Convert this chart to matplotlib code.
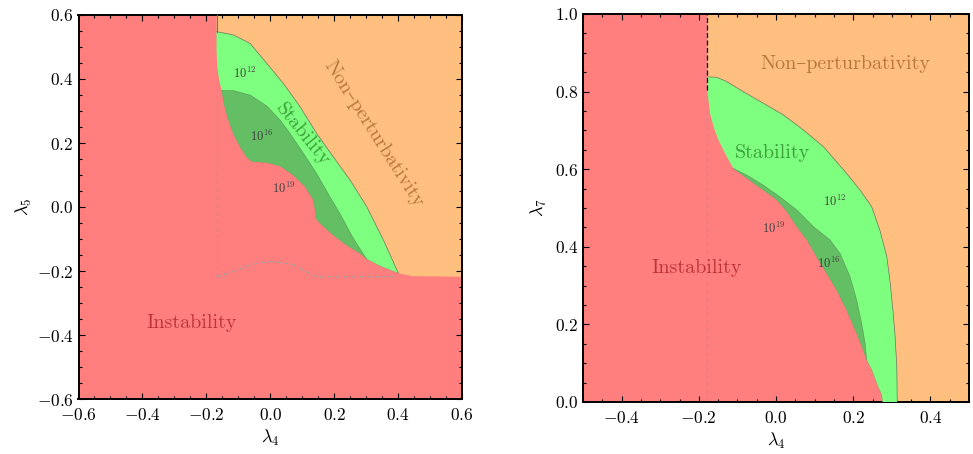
import matplotlib
matplotlib.use('Agg')
import matplotlib.pyplot as plt
from matplotlib.ticker import MultipleLocator
import numpy as np

plt.rcParams['font.family'] = 'serif'
plt.rcParams['font.serif'] = ['cmr10']
plt.rcParams['mathtext.fontset'] = 'cm'
plt.rcParams['axes.formatter.use_mathtext'] = True

# colours
RED = '#ff7f7f'
ORANGE = '#ffbf7f'
GREEN = '#7fff7f'
DGREEN = '#64be64'

# ---------------- left panel (lambda4, lambda5) ----------------
# orange / green border
up5_x = [-0.168, -0.116, -0.063, -0.011, 0.041, 0.093, 0.145, 0.197, 0.250, 0.302, 0.354, 0.401]
up5_y = [0.548, 0.538, 0.511, 0.449, 0.386, 0.314, 0.230, 0.157, 0.084, 0.001, -0.103, -0.207]
# left edge of green
le5_x = [-0.168, -0.168, -0.166, -0.160, -0.152]
le5_y = [0.548, 0.491, 0.439, 0.397, 0.364]
# instability border
rb5_x = [-0.152, -0.145, -0.131, -0.116, -0.095, -0.074, -0.058, -0.011, 0.031, 0.072, 0.109,
         0.135, 0.140, 0.142, 0.161, 0.197, 0.239, 0.281, 0.302, 0.343, 0.401]
rb5_y = [0.364, 0.324, 0.272, 0.230, 0.189, 0.157, 0.142, 0.139, 0.128, 0.100, 0.064,
         0.022, -0.009, -0.035, -0.056, -0.088, -0.119, -0.145, -0.163, -0.184, -0.207]
# 10^16 border
dg5_x = [-0.152, -0.116, -0.063, -0.011, 0.031, 0.062, 0.104, 0.145, 0.187, 0.218, 0.260, 0.302]
dg5_y = [0.364, 0.364, 0.350, 0.316, 0.272, 0.230, 0.168, 0.105, 0.032, -0.020, -0.098, -0.163]
# bottom of non-perturbative region
ob5_x = [0.401, 0.443, 0.6]
ob5_y = [-0.207, -0.216, -0.218]
# dashed curve
ds5_x = [-0.168, -0.142, -0.116, -0.090, -0.063, -0.030, 0.005, 0.040, 0.072, 0.110, 0.145, 0.396]
ds5_y = [-0.218, -0.210, -0.202, -0.192, -0.181, -0.174, -0.171, -0.174, -0.181, -0.200, -0.218, -0.218]

# ---------------- right panel (lambda4, lambda7) ----------------
up7_x = [-0.178, -0.154, -0.128, -0.085, -0.033, 0.019, 0.071, 0.123, 0.183, 0.218, 0.248, 0.269,
         0.287, 0.295, 0.302, 0.308, 0.313, 0.314]
up7_y = [0.838, 0.837, 0.826, 0.800, 0.770, 0.740, 0.701, 0.658, 0.589, 0.546, 0.503, 0.443,
         0.375, 0.314, 0.246, 0.177, 0.091, 0.0]
le7_x = [-0.178, -0.178, -0.175, -0.171, -0.162, -0.149, -0.132, -0.1105]
le7_y = [0.838, 0.804, 0.778, 0.744, 0.710, 0.675, 0.641, 0.602]
rb7_x = [-0.1105, -0.076, -0.033, 0.002, 0.028, 0.054, 0.080, 0.105, 0.131, 0.157, 0.183, 0.209,
         0.226, 0.235, 0.248, 0.261, 0.274, 0.276]
rb7_y = [0.602, 0.577, 0.546, 0.521, 0.491, 0.452, 0.418, 0.375, 0.332, 0.289, 0.237, 0.177,
         0.134, 0.108, 0.083, 0.048, 0.018, 0.0]
dg7_x = [-0.1105, -0.076, -0.033, 0.010, 0.054, 0.097, 0.140, 0.166, 0.192, 0.209, 0.222, 0.231, 0.235]
dg7_y = [0.602, 0.585, 0.559, 0.529, 0.495, 0.452, 0.418, 0.383, 0.323, 0.263, 0.203, 0.151, 0.108]
x_cut7 = -0.178


def style_axes(ax, xlim, ylim):
    ax.set_xlim(*xlim)
    ax.set_ylim(*ylim)
    ax.set_facecolor(RED)
    ax.xaxis.set_major_locator(MultipleLocator(0.2))
    ax.yaxis.set_major_locator(MultipleLocator(0.2))
    ax.xaxis.set_minor_locator(MultipleLocator(0.05))
    ax.yaxis.set_minor_locator(MultipleLocator(0.05))
    ax.tick_params(which='both', direction='in', top=True, right=True, labelsize=12.5, width=0.8)
    ax.tick_params(which='major', length=4)
    ax.tick_params(which='minor', length=2)
    ax.tick_params(axis='x', which='major', pad=6)
    for s in ax.spines.values():
        s.set_linewidth(1.4)


def region_layers(ax, up_x, up_y, le_x, le_y, rb_x, rb_y, dg_x, dg_y, top_poly):
    up_x, up_y = np.array(up_x), np.array(up_y)
    rb_x, rb_y = np.array(rb_x), np.array(rb_y)
    ax.fill(top_poly[0], top_poly[1], color=ORANGE, lw=0, zorder=1)
    gx = np.concatenate([up_x, rb_x[::-1], np.array(le_x)[::-1]])
    gy = np.concatenate([up_y, rb_y[::-1], np.array(le_y)[::-1]])
    ax.fill(gx, gy, color=GREEN, lw=0, zorder=3)
    m = rb_x <= dg_x[-1] + 1e-9
    dx = np.concatenate([dg_x, rb_x[m][::-1]])
    dy = np.concatenate([dg_y, rb_y[m][::-1]])
    ax.fill(dx, dy, color=DGREEN, lw=0, zorder=4)
    ax.plot(up_x, up_y, color='#505050', lw=0.5, alpha=0.7, zorder=5)
    ax.plot(dg_x, dg_y, color='#406040', lw=0.4, alpha=0.5, zorder=5)
    ax.plot(rb_x, rb_y, color='#806060', lw=0.4, alpha=0.4, zorder=5)


fig = plt.figure(figsize=(9.73, 4.54), dpi=100)
W, H = 973.0, 454.0
ax1 = fig.add_axes([78.5 / W, (H - 399) / H, (462 - 78.5) / W, (399 - 15) / H])
ax2 = fig.add_axes([583 / W, (H - 402) / H, (969 - 583) / W, (402 - 14) / H])

# left panel
style_axes(ax1, (-0.6, 0.6), (-0.6, 0.6))
top5 = (np.concatenate([[up5_x[0], 0.6], ob5_x[::-1], up5_x[::-1]]),
        np.concatenate([[0.6, 0.6], ob5_y[::-1], up5_y[::-1]]))
ax1.plot([up5_x[0], up5_x[0]], [up5_y[0], -0.218], color='#a0a0a0', lw=0.8, ls=(0, (4, 3)), zorder=2)
ax1.plot(ds5_x, ds5_y, color='#a0a0a0', lw=0.8, ls=(0, (4, 3)), zorder=2)
region_layers(ax1, up5_x, up5_y, le5_x, le5_y, rb5_x, rb5_y, dg5_x, dg5_y, top5)
ax1.plot([up5_x[0], up5_x[0]], [up5_y[0], 0.6], color='#3a9a3a', lw=0.8, zorder=5)

ax1.text(0.322, 0.230, 'Non–perturbativity', rotation=-57.5, ha='center', va='center',
         fontsize=14.5, color='#b9783a', family=['cmr10', 'DejaVu Serif'], zorder=6)
ax1.text(0.100, 0.225, 'Stability', rotation=-51, ha='center', va='center',
         fontsize=14.5, color='#3aa03a', zorder=6)
ax1.text(-0.245, -0.3625, 'Instability', ha='center', va='center', fontsize=14.5,
         color='#c03438', zorder=6)
ax1.text(-0.079, 0.418, r'$10^{12}$', ha='center', va='center', fontsize=9, color='#404040', zorder=6)
ax1.text(-0.027, 0.220, r'$10^{16}$', ha='center', va='center', fontsize=9, color='#404040', zorder=6)
ax1.text(0.041, 0.058, r'$10^{19}$', ha='center', va='center', fontsize=9, color='#404040', zorder=6)
ax1.set_xlabel(r'$\lambda_4$', fontsize=13, labelpad=3)
ax1.set_ylabel(r'$\lambda_5$', fontsize=13, labelpad=2)

# right panel
style_axes(ax2, (-0.5, 0.5), (0.0, 1.0))
top7 = (np.concatenate([[x_cut7, 0.5, 0.5], up7_x[::-1]]),
        np.concatenate([[1.0, 1.0, 0.0], up7_y[::-1]]))
ax2.plot([x_cut7, x_cut7], [0.0, le7_y[1]], color='#a0a0a0', lw=0.8, ls=(0, (4, 3)), zorder=2)
region_layers(ax2, up7_x, up7_y, le7_x, le7_y, rb7_x, rb7_y, dg7_x, dg7_y, top7)
ax2.plot([x_cut7, x_cut7], [le7_y[1], 1.0], color='black', lw=0.9, ls=(0, (4, 2)), zorder=5)

ax2.text(0.1805, 0.870, 'Non–perturbativity', ha='center', va='center',
         fontsize=14.5, color='#b9783a', family=['cmr10', 'DejaVu Serif'], zorder=6)
ax2.text(-0.0086, 0.641, 'Stability', ha='center', va='center', fontsize=14.5,
         color='#3aa03a', zorder=6)
ax2.text(-0.2055, 0.3445, 'Instability', ha='center', va='center', fontsize=14.5,
         color='#c03438', zorder=6)
ax2.text(0.153, 0.516, r'$10^{12}$', ha='center', va='center', fontsize=9, color='#404040', zorder=6)
ax2.text(-0.007, 0.448, r'$10^{19}$', ha='center', va='center', fontsize=9, color='#404040', zorder=6)
ax2.text(0.1355, 0.357, r'$10^{16}$', ha='center', va='center', fontsize=9, color='#404040', zorder=6)
ax2.set_xlabel(r'$\lambda_4$', fontsize=13, labelpad=3)
ax2.set_ylabel(r'$\lambda_7$', fontsize=13, labelpad=4)

fig.savefig('out.png', dpi=100)
